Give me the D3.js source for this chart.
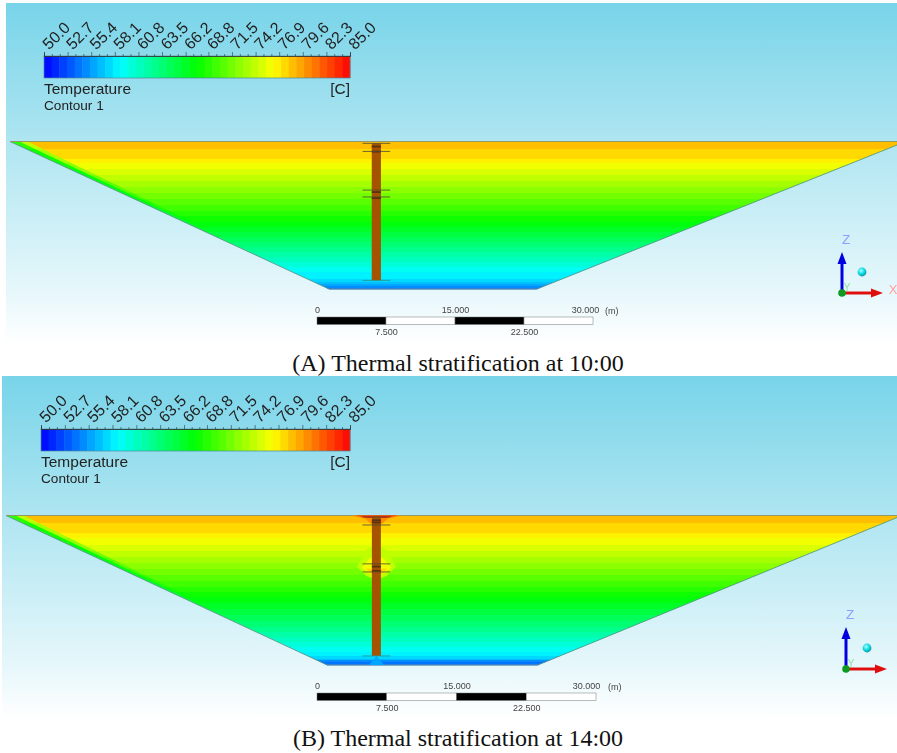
<!DOCTYPE html>
<html><head><meta charset="utf-8">
<style>html,body{margin:0;padding:0;background:#fff}svg{display:block}</style>
<script src="https://cdn.jsdelivr.net/npm/d3@7"></script></head>
<body><svg id="c" width="897" height="753"></svg>
<script>
const legendTicks = [50.0,52.7,55.4,58.1,60.8,63.5,66.2,68.8,71.5,74.2,76.9,79.6,82.3,85.0];
const colorStops = [50,58.75,67.5,76.25,85];
const colorRange = ["#0000ff","#00ffff","#00ff00","#ffff00","#ff0000"];
const contourCount = 40;

// Panel A (10:00): band top depth (m) and temperature (C)
const depthA = [0,0.82,1.90,2.34,2.99,3.64,4.29,4.95,5.60,6.25,6.90,7.55,8.10,8.75,9.29,9.84,10.38,10.92,11.47,12.01,12.55,13.10,13.64,14.18,14.95,15.27,15.49,15.71,15.92];
const tempA  = [78.4,77.4,76.6,75.8,74.9,74.0,73.1,72.2,71.4,70.5,69.6,68.8,67.9,67.1,66.2,65.3,64.4,63.6,62.7,61.8,60.9,60.1,59.2,58.4,57.5,56.6,55.3,54.4,53.6];
// Panel B (14:00)
const depthB = [0,0.81,1.88,2.42,3.17,3.82,4.46,5.11,5.75,6.40,7.04,7.69,8.23,8.76,9.41,10.05,10.70,11.34,11.99,12.53,13.06,13.60,14.14,14.68,15.11,15.43,15.54,15.75];
const tempB  = [78.4,77.4,76.6,75.8,74.9,74.0,73.1,72.2,71.4,70.5,69.6,68.8,67.9,67.1,66.2,65.3,64.4,63.6,62.7,61.8,60.9,60.1,59.2,58.4,57.5,56.6,55.0,53.8];

// Basin outline (m along the scale bar; depth m)
const basinXA = [-33.37,1.30,23.91,64.0], basinDepthA = 16.03;
const basinXB = [-33.44,1.08,23.76,62.9], basinDepthB = 16.07;
// Tower (m) and its platform levels (depth m)
const towerXA = [5.95,6.95], towerDepthA = [0.2,15.1], levelsA = [0.2,1.08,5.28,6.03,15.1], bandsA = [0.45,1.0,5.4,6.05];
const towerXB = [5.9,6.87], towerDepthB = [0.1,15.1], levelsB = [0.16,1.02,5.2,6.07,15.1], bandsB = [0.42,0.65,5.4,5.85];
const levelHalf = 1.5;
const scaleLabelsTop = [0,15,30], scaleLabelsBottom = [7.5,22.5], scaleSegments = [0,7.5,15,22.5,30];
// Panel B local contours around the tower (x m, depth m, temperature)
const halos = [
 {t:74.0, x:[4.3,5.3,6.4,7.5,8.5,7.5,6.4,5.3], d:[5.5,3.7,3.1,3.7,5.5,6.5,6.9,6.5]},
 {t:75.8, x:[4.8,5.6,6.4,7.2,8.0,7.2,6.4,5.6], d:[5.6,4.7,4.2,4.7,5.6,6.2,6.5,6.2]},
 {t:77.9, x:[5.2,7.6,7.0,5.8], d:[5.7,5.7,6.3,6.3]},
 {t:80.0, x:[3.6,9.2,7.6,7.0,5.8,5.2], d:[0,0,0.35,0.9,0.9,0.35]},
 {t:84.0, x:[4.2,8.6,7.3,5.5], d:[0,0,0.28,0.28]},
 {t:56.0, x:[5.6,7.2,6.8,6.4,6.0], d:[16.07,16.07,15.6,15.1,15.6]}
];
const panels = [
 {id:"A",box:[6,3,891,342],scale:[317,593],top:141.5,basinX:basinXA,basinD:basinDepthA,depth:depthA,temp:tempA,tx:towerXA,td:towerDepthA,levels:levelsA,bands:bandsA,
  bar:[44,350,56,78],triad:[842,293,252,883,862,272],caption:"(A) Thermal stratification at 10:00",capY:371,scaleY:317,halos:[],showX:true,lastDx:-8},
 {id:"B",box:[2,376,895,344],scale:[317,596],top:515.5,basinX:basinXB,basinD:basinDepthB,depth:depthB,temp:tempB,tx:towerXB,td:towerDepthB,levels:levelsB,bands:bandsB,
  bar:[41,350,429,451],triad:[846,669,627,887,867,648],caption:"(B) Thermal stratification at 14:00",capY:746,scaleY:693,halos:halos,showX:false,lastDx:-10}
];

const svg = d3.select("#c");
const defs = svg.append("defs");
const grad = defs.append("linearGradient").attr("id","bg").attr("x1",0).attr("x2",0).attr("y1",0).attr("y2",1);
[[0,"#78d4e9"],[0.4,"#aee5f1"],[0.84,"#e6f7fb"],[1,"#ffffff"]].forEach(s=>grad.append("stop").attr("offset",s[0]).attr("stop-color",s[1]));
defs.append("filter").attr("id","soft").attr("x","-5%").attr("y","-5%").attr("width","110%").attr("height","110%")
  .append("feGaussianBlur").attr("stdDeviation",0.45);
const sphere = defs.append("radialGradient").attr("id","sph").attr("cx",0.4).attr("cy",0.35).attr("r",0.7);
[[0,"#b0ffff"],[0.5,"#10dfe6"],[1,"#0a8c96"]].forEach(s=>sphere.append("stop").attr("offset",s[0]).attr("stop-color",s[1]));

const ramp = d3.scaleLinear().domain(colorStops).range(colorRange);
const bandColor = d3.scaleQuantize().domain([50,85]).range(d3.range(contourCount).map(i=>ramp(50+(i+0.5)*35/contourCount)));
const FONT = "'Liberation Sans',Arial,sans-serif";

panels.forEach(p=>{
  const g = svg.append("g");
  g.append("rect").attr("x",p.box[0]).attr("y",p.box[1]).attr("width",p.box[2]).attr("height",p.box[3]).attr("fill","url(#bg)");
  const soft = g.append("g").attr("filter","url(#soft)");
  const x = d3.scaleLinear().domain([0,30]).range(p.scale);
  const pxPerM = (p.scale[1]-p.scale[0])/30;
  const y = d3.scaleLinear().domain([0,1]).range([p.top,p.top+pxPerM]);
  const line = d3.line().x(d=>x(d[0])).y(d=>y(d[1]));
  const outline = s=>[[p.basinX[0]+s,0],[p.basinX[1],p.basinD],[p.basinX[2],p.basinD],[p.basinX[3],0]];
  const fade = d3.scaleLinear().domain([66,78]).range([0,1]).clamp(true);

  // wall layers: cooler film along the sloped wall, fading with depth
  [{dT:-10,s:0,c:"w0"},{dT:-4,s:1.0,c:"w1"},{dT:0,s:1.9,c:"w2"}].forEach(l=>{
    const id = "clip"+p.id+l.c;
    defs.append("clipPath").attr("id",id).append("path").attr("d",line(outline(l.s))+"Z");
    soft.append("g").attr("clip-path",`url(#${id})`).selectAll("rect").data(p.depth).join("rect")
      .attr("x",0).attr("width",897)
      .attr("y",d=>y(d))
      .attr("height",(d,i)=>y(i<p.depth.length-1?p.depth[i+1]:p.basinD)-y(d)+0.5)
      .attr("fill",(d,i)=>bandColor(p.temp[i]+l.dT*fade(p.temp[i])));
  });
  // outline
  soft.append("path").attr("d",line(outline(0))).attr("fill","none").attr("stroke","#5f9a8a").attr("stroke-width",0.9);
  soft.append("line").attr("x1",x(p.basinX[0])).attr("x2",x(p.basinX[3])).attr("y1",y(0)).attr("y2",y(0)).attr("stroke","#8f9c6a").attr("stroke-width",1.2);
  soft.append("line").attr("x1",x(p.basinX[1])).attr("x2",x(p.basinX[2])).attr("y1",y(p.basinD)).attr("y2",y(p.basinD)).attr("stroke","#3f7fd0").attr("stroke-width",1);
  // local contours near the tower
  const closed = d3.line().x(d=>x(d[0])).y(d=>y(d[1])).curve(d3.curveLinearClosed);
  soft.append("g").selectAll("path").data(p.halos).join("path")
    .attr("d",h=>closed(h.x.map((v,i)=>[v,h.d[i]])))
    .attr("fill",h=>bandColor(h.t));
  // tower
  soft.append("rect").attr("x",x(p.tx[0])).attr("width",x(p.tx[1])-x(p.tx[0])).attr("y",y(p.td[0])).attr("height",y(p.td[1])-y(p.td[0])).attr("fill","#a65300");
  soft.selectAll(".b").data(p.bands).join("rect").attr("x",x(p.tx[0])).attr("width",x(p.tx[1])-x(p.tx[0]))
    .attr("y",d=>y(d)).attr("height",1.8).attr("fill","#5a3010");
  const mid = (p.tx[0]+p.tx[1])/2;
  soft.selectAll(".l").data(p.levels).join("line")
    .attr("x1",x(mid-levelHalf)).attr("x2",x(mid+levelHalf)).attr("y1",d=>y(d)).attr("y2",d=>y(d))
    .attr("stroke",(d,i)=>i===p.levels.length-1?"#2f8f8f":"#4a4a3a").attr("stroke-width",0.8);

  // legend
  const [bx0,bx1,by0,by1] = p.bar;
  const lx = d3.scaleLinear().domain([50,85]).range([bx0,bx1]);
  soft.selectAll(".seg").data(d3.range(contourCount)).join("rect")
    .attr("x",i=>lx(50+i*35/contourCount)).attr("width",(bx1-bx0)/contourCount+0.4)
    .attr("y",by0).attr("height",by1-by0).attr("fill",i=>bandColor(50+(i+0.5)*35/contourCount));
  soft.append("rect").attr("x",bx0).attr("y",by0).attr("width",bx1-bx0).attr("height",by1-by0).attr("fill","none").attr("stroke","#4a8a9a").attr("stroke-width",0.7);
  const minor = d3.pairs(legendTicks).flatMap(([a,b])=>[a+(b-a)/3,a+2*(b-a)/3]);
  const minorAxis = d3.axisTop(lx).tickValues(minor).tickSize(2).tickFormat("");
  const majorAxis = d3.axisTop(lx).tickValues(legendTicks).tickSize(4).tickFormat(d3.format(".1f"));
  [minorAxis,majorAxis].forEach(ax=>{
    const a = soft.append("g").attr("transform",`translate(0,${by0})`).call(ax);
    a.select(".domain").attr("stroke","#333").attr("stroke-width",0.6);
    a.selectAll("line").attr("stroke","#333").attr("stroke-width",0.6);
    a.selectAll("text").attr("font-family",FONT).attr("font-size",16).attr("fill","#222")
      .attr("text-anchor","start").attr("transform","translate(1,-9) rotate(-45)").attr("x",0).attr("y",0).attr("dy","0.32em");
  });
  const lbl=(t,xx,yy,fs,an)=>soft.append("text").text(t).attr("x",xx).attr("y",yy).attr("font-family",FONT).attr("font-size",fs).attr("fill","#222").attr("text-anchor",an||"start");
  lbl("Temperature",bx0,by1+16,15.5);
  lbl("Contour 1",bx0,by1+32,13.6);
  lbl("[C]",bx1,by1+16,15.5,"end");

  // scale bar
  const sy = p.scaleY, sh = 7.5;
  soft.selectAll(".sb").data(d3.pairs(scaleSegments)).join("rect")
    .attr("x",d=>x(d[0])).attr("width",d=>x(d[1])-x(d[0])).attr("y",sy).attr("height",sh)
    .attr("fill",(d,i)=>i%2?"#fff":"#000").attr("stroke","#777").attr("stroke-width",0.5);
  const sf = d=>d===0?"0":d3.format(".3f")(d);
  const ta = soft.append("g").attr("transform",`translate(0,${sy-1})`).call(d3.axisTop(x).tickValues(scaleLabelsTop).tickSize(0).tickFormat(sf));
  const ba = soft.append("g").attr("transform",`translate(0,${sy+sh+1})`).call(d3.axisBottom(x).tickValues(scaleLabelsBottom).tickSize(0).tickFormat(sf));
  [ta,ba].forEach(a=>{a.select(".domain").remove();a.selectAll("text").attr("font-family",FONT).attr("font-size",9).attr("fill","#444");});
  ta.selectAll("text").filter(d=>d===30).attr("dx",p.lastDx);
  soft.append("text").text("(m)").attr("x",x(30)+12).attr("y",sy-3).attr("font-family",FONT).attr("font-size",9).attr("fill","#444");

  // axis triad
  const [ox,oy,zy,xx,sx,syy] = p.triad;
  const tg = soft.append("g");
  tg.append("line").attr("x1",ox).attr("x2",ox).attr("y1",oy).attr("y2",zy+6).attr("stroke","#0000e0").attr("stroke-width",3);
  tg.append("path").attr("d",d3.line()([[ox,zy],[ox+4.5,zy+12],[ox-4.5,zy+12]])+"Z").attr("fill","#0000e0");
  tg.append("line").attr("x1",ox).attr("x2",xx-6).attr("y1",oy).attr("y2",oy).attr("stroke","#e01010").attr("stroke-width",3);
  tg.append("path").attr("d",d3.line()([[xx,oy],[xx-12,oy-4.5],[xx-12,oy+4.5]])+"Z").attr("fill","#e01010");
  tg.append("circle").attr("cx",ox).attr("cy",oy).attr("r",3.8).attr("fill","#109a20");
  tg.append("circle").attr("cx",sx).attr("cy",syy).attr("r",4.4).attr("fill","url(#sph)");
  tg.append("text").text("Z").attr("x",ox+4).attr("y",zy-8).attr("text-anchor","middle").attr("font-family",FONT).attr("font-size",13.5).attr("fill","#8aa0ff");
  if (p.showX) tg.append("text").text("X").attr("x",xx+10).attr("y",oy+1).attr("text-anchor","middle").attr("font-family",FONT).attr("font-size",13).attr("fill","#ffa0a0");
  tg.append("text").text("Y").attr("x",ox+5).attr("y",oy-2).attr("text-anchor","middle").attr("font-family",FONT).attr("font-size",10).attr("fill","#90e0a0");

  // caption
  svg.append("text").text(p.caption).attr("x",458).attr("y",p.capY).attr("text-anchor","middle")
    .attr("font-family","'Liberation Serif','Times New Roman',serif").attr("font-size",24).attr("fill","#111");
});
</script></body></html>
